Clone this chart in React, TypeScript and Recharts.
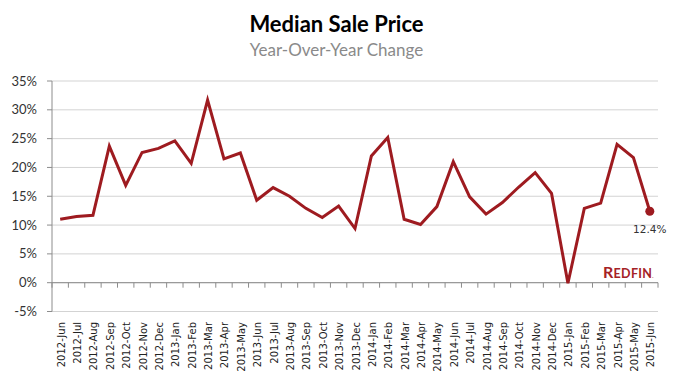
import { LineChart, Line, XAxis, YAxis, CartesianGrid, ReferenceLine } from "recharts";

const months = [
  "2012-Jun", "2012-Jul", "2012-Aug", "2012-Sep", "2012-Oct", "2012-Nov", "2012-Dec",
  "2013-Jan", "2013-Feb", "2013-Mar", "2013-Apr", "2013-May", "2013-Jun", "2013-Jul",
  "2013-Aug", "2013-Sep", "2013-Oct", "2013-Nov", "2013-Dec",
  "2014-Jan", "2014-Feb", "2014-Mar", "2014-Apr", "2014-May", "2014-Jun", "2014-Jul",
  "2014-Aug", "2014-Sep", "2014-Oct", "2014-Nov", "2014-Dec",
  "2015-Jan", "2015-Feb", "2015-Mar", "2015-Apr", "2015-May", "2015-Jun",
];

const yoyChange = [
  11.0, 11.5, 11.7, 23.7, 16.9, 22.6, 23.3,
  24.6, 20.7, 31.7, 21.5, 22.5, 14.3, 16.5,
  15.0, 12.9, 11.3, 13.3, 9.4,
  22.0, 25.2, 11.0, 10.1, 13.2, 21.0, 14.9,
  11.9, 13.9, 16.6, 19.1, 15.5,
  -0.1, 12.9, 13.8, 24.0, 21.7, 12.4,
];

const yTicks = [-5, 0, 5, 10, 15, 20, 25, 30, 35];

const data = months.map((month, i) => ({ month, value: yoyChange[i] }));

const RED = "#9e1b20";
// plot box (matches the margins below)
const PLOT_TOP = 81;
const PLOT_BOTTOM = 311.5;
const PLOT_LEFT = 52;
const PLOT_RIGHT = 658;
const band = (PLOT_RIGHT - PLOT_LEFT) / months.length;
const zeroY = PLOT_TOP + (35 / 40) * (PLOT_BOTTOM - PLOT_TOP);

const MonthTick = (props: any) => {
  const { x, index, payload } = props;
  const last = index === months.length - 1;
  return (
    <g>
      <line x1={x - band / 2} x2={x - band / 2} y1={zeroY} y2={zeroY + 5} stroke="#8c8c8c" />
      {last && <line x1={x + band / 2} x2={x + band / 2} y1={zeroY} y2={zeroY + 5} stroke="#8c8c8c" />}
      <text
        transform={`translate(${x + 1},322) rotate(-90)`}
        textAnchor="end"
        dominantBaseline="central"
        fontSize={10}
        fontFamily="DejaVu Sans"
        fill="#222"
      >
        {payload.value}
      </text>
    </g>
  );
};

const LastDot = (props: any) => {
  const { cx, cy, index } = props;
  if (index !== months.length - 1) return <g key={index} />;
  return (
    <g key={index}>
      <circle cx={cx} cy={cy} r={4.5} fill={RED} />
      <text x={cx} y={cy + 22} textAnchor="middle" fontSize={10.5} fontFamily="DejaVu Sans" fill="#333">
        {yoyChange[index]}%
      </text>
    </g>
  );
};

export default function App() {
  return (
    <div style={{ position: "absolute", left: 0, top: 0, width: 673, height: 384, background: "#fff" }}>
      <div
        style={{
          position: "absolute", left: 0, width: 673, top: 11, textAlign: "center",
          fontFamily: "Lato", fontWeight: 700, fontSize: 22, lineHeight: "26px", color: "#000",
        }}
      >
        Median Sale Price
      </div>
      <div
        style={{
          position: "absolute", left: 0, width: 673, top: 40, textAlign: "center",
          fontFamily: "Lato", fontSize: 17, lineHeight: "20px", color: "#8a8a8a",
        }}
      >
        Year-Over-Year Change
      </div>
      <LineChart
        width={673}
        height={384}
        data={data}
        margin={{ top: PLOT_TOP, right: 673 - PLOT_RIGHT, bottom: 0, left: 0 }}
      >
        <CartesianGrid vertical={false} stroke="#d3d3d3" />
        <XAxis
          dataKey="month"
          interval={0}
          height={384 - PLOT_BOTTOM}
          padding={{ left: band / 2, right: band / 2 }}
          axisLine={false}
          tickLine={false}
          tick={<MonthTick />}
        />
        <YAxis
          width={PLOT_LEFT}
          domain={[-5, 35]}
          ticks={yTicks}
          tickFormatter={(v) => `${v}%`}
          axisLine={{ stroke: "#8c8c8c" }}
          tickLine={{ stroke: "#8c8c8c" }}
          tickSize={5}
          tickMargin={10}
          tick={{ fontSize: 13, fontFamily: "Lato", fill: "#333" }}
        />
        <ReferenceLine y={0} stroke="#8c8c8c" />
        <Line
          dataKey="value"
          stroke={RED}
          strokeWidth={3}
          dot={<LastDot />}
          activeDot={false}
          isAnimationActive={false}
        />
      </LineChart>
      <div
        style={{
          position: "absolute", left: 603, top: 262, fontFamily: "Lato", fontWeight: 700,
          color: "#a52226", letterSpacing: 0.3,
        }}
      >
        <span style={{ fontSize: 16 }}>R</span>
        <span style={{ fontSize: 12.5 }}>EDFIN</span>
        <span style={{ fontSize: 5 }}>.</span>
      </div>
    </div>
  );
}
